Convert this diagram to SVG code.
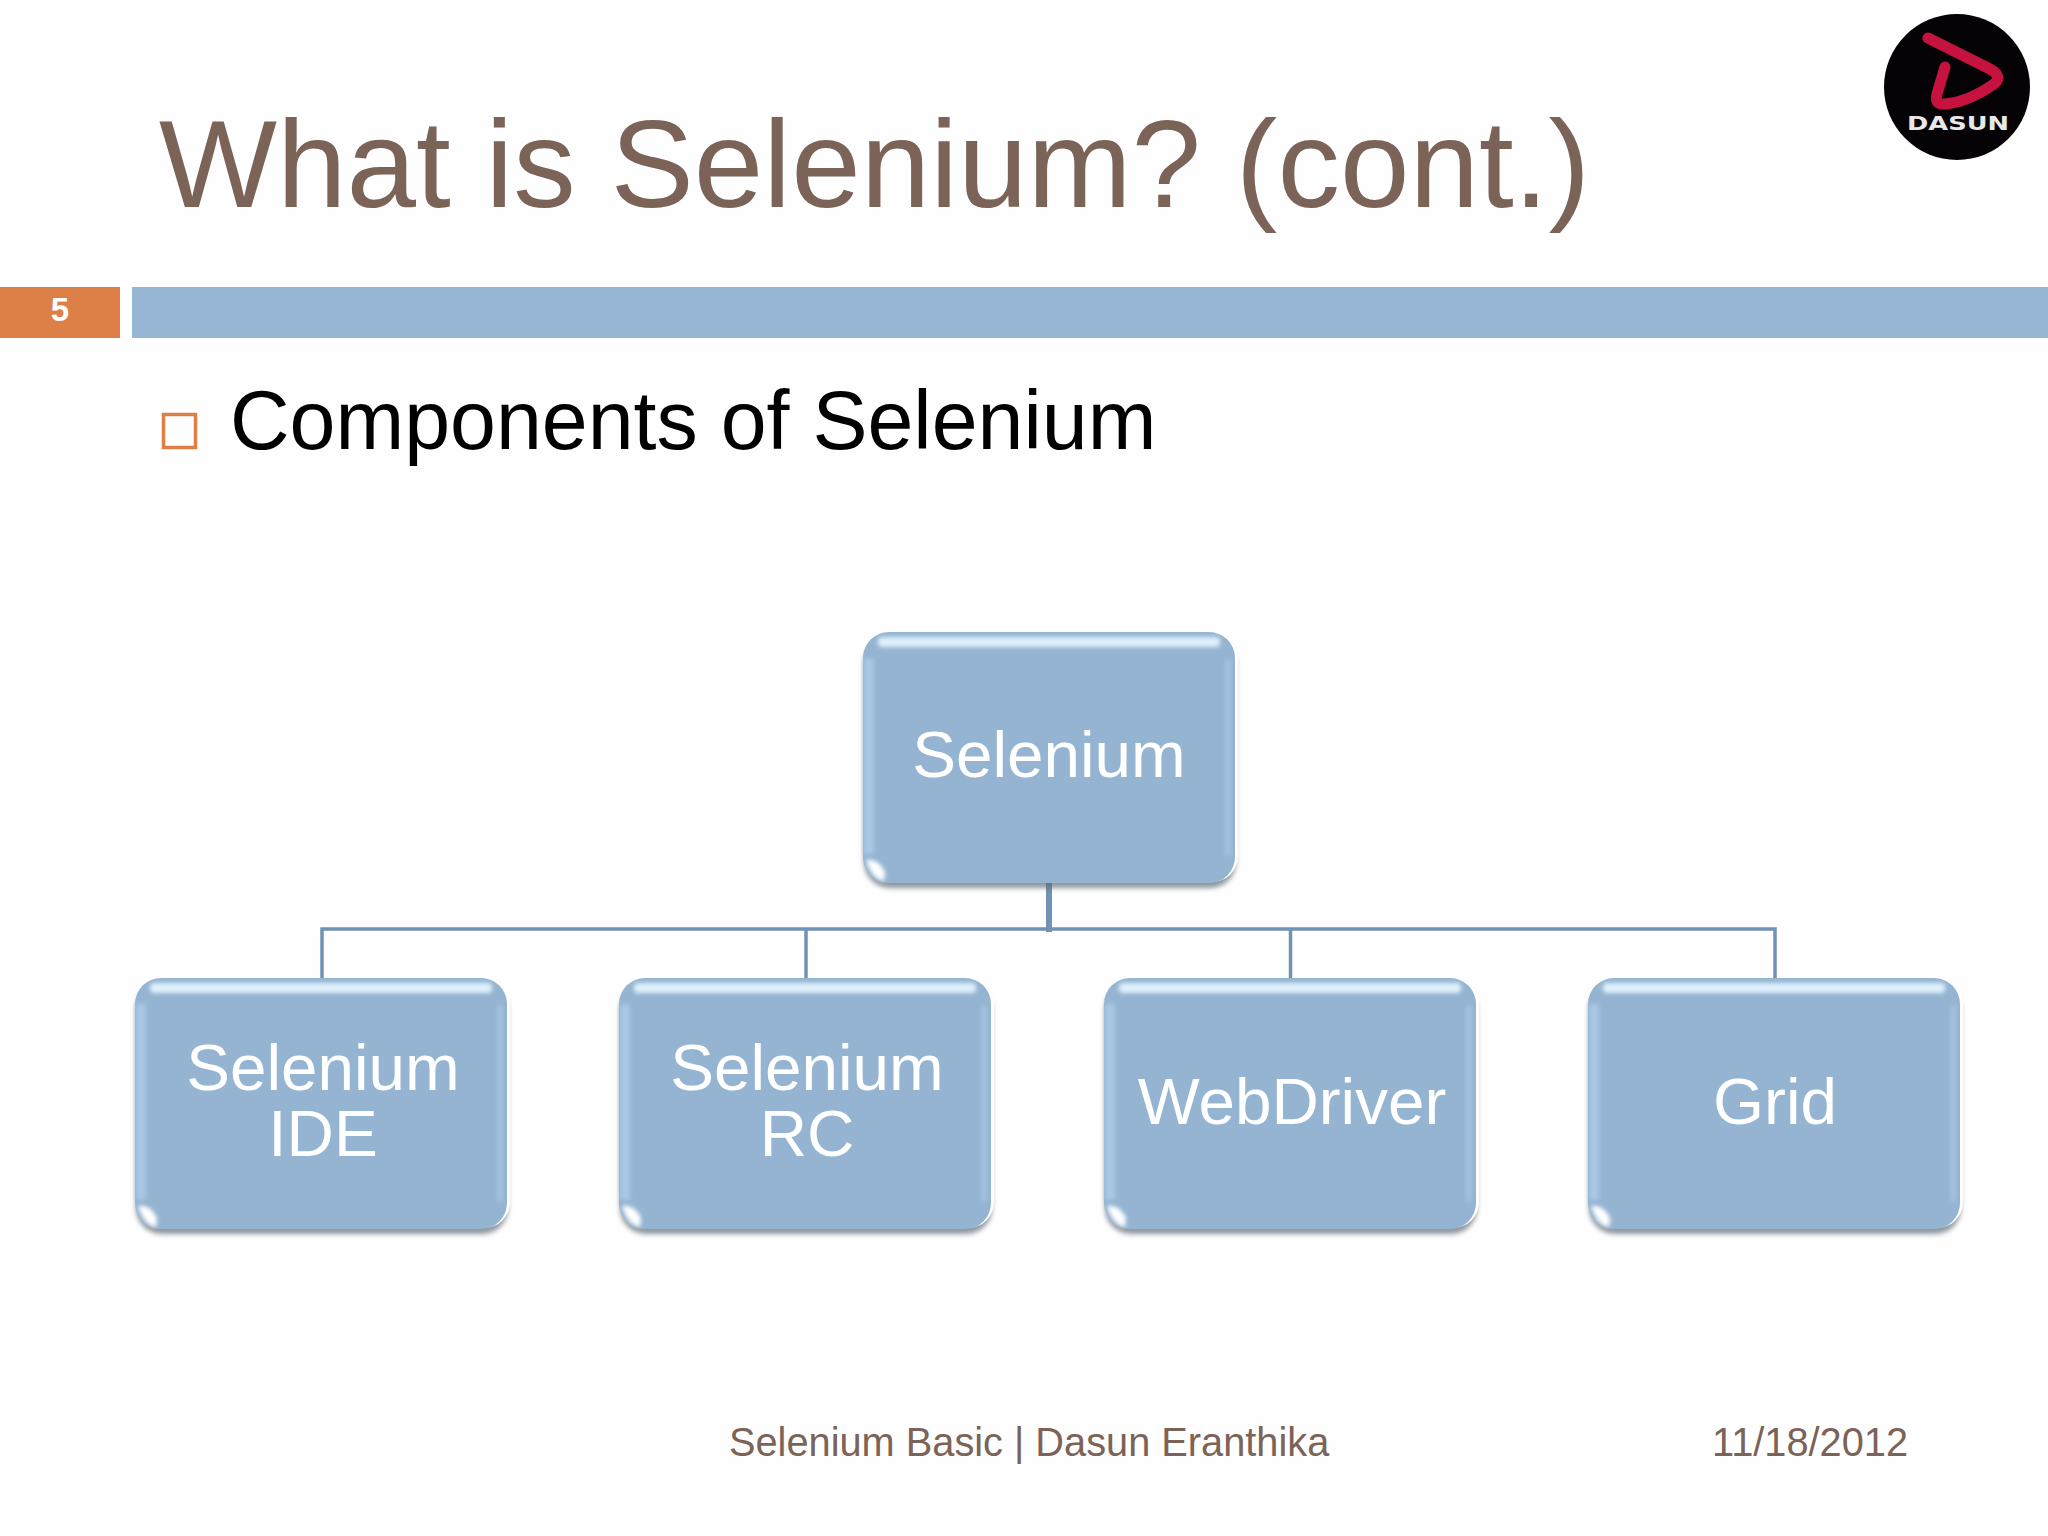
<svg xmlns="http://www.w3.org/2000/svg" width="2048" height="1536" viewBox="0 0 2048 1536">
<style>
text{font-family:"Liberation Sans",Arial,sans-serif}
.title{font-size:125px;fill:#7b6358}
.body{font-size:82.500px;fill:#000}
.foot{font-size:39.750px;fill:#7b6358}
.lbl{font-size:65.600px;fill:#fff;text-anchor:middle}
.card{fill:#94b4d2}
.conn{fill:none;stroke:#7192b4;stroke-width:3.500}
</style>
<defs>
<filter id="blur" x="-20%" y="-20%" width="140%" height="140%"><feGaussianBlur stdDeviation="2.500"/></filter>
<filter id="soft" x="-30%" y="-60%" width="160%" height="220%"><feGaussianBlur stdDeviation="2"/></filter>
<g id="box">
<rect x="1" y="6" width="372" height="250" rx="26" fill="#5f6a74" opacity=".7" filter="url(#blur)"/>
<rect x="3" y="0" width="372" height="250" rx="26" fill="#fff"/>
<rect x="0" y="0" width="372" height="251" rx="26" class="card"/>
<rect x="1" y="26" width="10" height="196" fill="#a8c8e4" filter="url(#soft)"/>
<rect x="15" y="5" width="342" height="10" rx="4" fill="#e0f1fb" filter="url(#soft)"/>
<rect x="362" y="28" width="6" height="195" fill="#a4c2de" filter="url(#soft)"/>
<path d="M3 228Q15 226 22 240L21 249Q9 247 3 228Z" fill="#fff" filter="url(#soft)"/>
</g>
</defs>
<rect width="2048" height="1536" fill="#fefefe"/>
<text class="title" x="159" y="207">What is Selenium? (cont.)</text>
<rect x="0" y="287" width="120" height="51" fill="#dd8047"/>
<rect x="132" y="287" width="1916" height="51" fill="#97b6d3"/>
<text x="60" y="321" font-size="33" font-weight="700" fill="#fff" text-anchor="middle">5</text>
<rect x="163.500" y="414.500" width="32" height="33" fill="none" stroke="#dd8047" stroke-width="3.500"/>
<text class="body" x="230" y="449">Components of Selenium</text>
<g id="connectors">
<path class="conn" d="M322 978V929H1775V978M806 929V978M1290.500 929V978"/>
<path d="M1049 881V932" fill="none" stroke="#7192b4" stroke-width="6"/>
</g>
<g id="node-selenium">
<use href="#box" x="863" y="632"/>
<text class="lbl" x="1049" y="777">Selenium</text>
</g>
<g id="node-ide">
<use href="#box" x="135" y="978"/>
<text class="lbl" x="323" y="1090">Selenium</text>
<text class="lbl" x="323" y="1156">IDE</text>
</g>
<g id="node-rc">
<use href="#box" x="619" y="978"/>
<text class="lbl" x="807" y="1090">Selenium</text>
<text class="lbl" x="807" y="1156">RC</text>
</g>
<g id="node-webdriver">
<use href="#box" x="1104" y="978"/>
<text class="lbl" x="1292" y="1124">WebDriver</text>
</g>
<g id="node-grid">
<use href="#box" x="1588" y="978"/>
<text class="lbl" x="1775" y="1124">Grid</text>
</g>
<text class="foot" x="729" y="1456">Selenium Basic | Dasun Eranthika</text>
<text class="foot" x="1712" y="1456">11/18/2012</text>
<g id="logo">
<circle cx="1957" cy="87" r="73" fill="#050305"/>
<path d="M1928 38L1988 68Q2004 76 1994 84Q1968 102 1945 104Q1934 105 1937 94L1945 67" fill="none" stroke="#c5123f" stroke-width="11" stroke-linejoin="round" stroke-linecap="round"/>
<text x="1907" y="130" font-size="19" font-weight="700" fill="#e8e8e8" textLength="102" lengthAdjust="spacingAndGlyphs" style="font-family:'DejaVu Sans',sans-serif">DASUN</text>
</g>
</svg>
